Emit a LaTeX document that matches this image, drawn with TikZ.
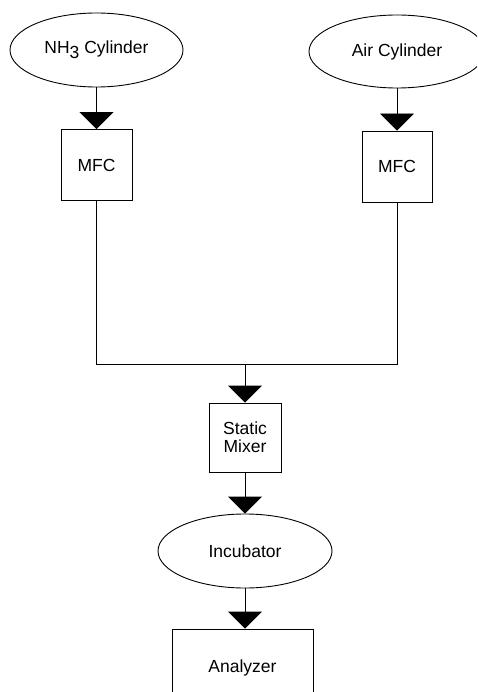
\documentclass[tikz,border=0pt]{standalone}
\usepackage{fontspec}
\setmainfont{Liberation Sans}
\usetikzlibrary{arrows.meta,shapes.geometric}
\begin{document}
\begin{tikzpicture}[x=1pt,y=-1pt,
  every node/.style={font=\fontsize{17.5}{20}\selectfont, draw, line width=0.9pt, inner sep=0pt, align=center},
  tank/.style={ellipse},
  unit/.style={rectangle},
  flow/.style={line width=0.9pt, -{Triangle[width=34pt,length=17pt]}},
  pipe/.style={line width=0.9pt}]
\useasboundingbox (0,0) rectangle (477,692);
\clip (0,0) rectangle (477,692);
\fill[white] (0,0) rectangle (477,692);

% supply cylinders
\node[tank, minimum width=173pt, minimum height=74pt] (nh3) at (96.5,50) {NH\raisebox{-0.3em}{3} Cylinder};
\node[tank, minimum width=176pt, minimum height=73pt] (air) at (397,51.5) {Air Cylinder};

% mass flow controllers
\node[unit, minimum width=71pt, minimum height=71pt] (mfc1) at (96.5,165) {MFC};
\node[unit, minimum width=70pt, minimum height=71pt] (mfc2) at (397,166.5) {MFC};

% mixing and downstream units
\node[unit, minimum width=72pt, minimum height=69pt] (mix) at (245,437.5) {Static\\[-2pt]Mixer};
\node[tank, minimum width=174pt, minimum height=74pt] (inc) at (245,551) {Incubator};
\node[unit, minimum width=141pt, minimum height=70pt, text depth=0pt] (ana) at (242.5,664) {\raisebox{-5pt}{Analyzer}};

\coordinate (j) at (245,364);

% connectors
\draw[flow] (nh3.south) -- (mfc1.north);
\draw[flow] (air.south) -- (mfc2.north);
\draw[pipe] (mfc1.south) |- (j);
\draw[pipe] (mfc2.south) |- (j);
\draw[flow] (j) -- (mix.north);
\draw[flow] (mix.south) -- (inc.north);
\draw[flow] (inc.south) -- (inc.south |- ana.north);
\end{tikzpicture}
\end{document}
